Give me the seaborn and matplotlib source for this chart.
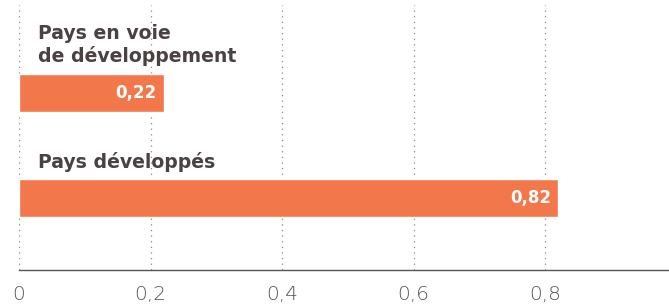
import matplotlib
matplotlib.use("Agg")
import matplotlib.pyplot as plt
import seaborn as sns
import pandas as pd

categories = ["Pays en voie\nde développement", "Pays développés"]
values = [0.22, 0.82]
value_labels = ["0,22", "0,82"]
tick_values = [0, 0.2, 0.4, 0.6, 0.8]
tick_labels = ["0", "0,2", "0,4", "0,6", "0,8"]

sns.set_style("white")
plt.rcParams['font.family'] = ['DejaVu Sans']

df = pd.DataFrame({"cat": categories, "val": values})

fig = plt.figure(figsize=(6.69, 3.07), dpi=100)
ax = fig.add_axes([19/669, 37/307, 1 - 19/669, (270-5)/307])

bar_color = "#F2784B"
sns.barplot(data=df, x="val", y="cat", orient="h", color=bar_color,
            width=0.36, saturation=1, ax=ax, zorder=3)

ax.set_xlim(0, 650/657.5)
ax.set_ylim(1.678, -0.834)

for x in tick_values:
    ax.axvline(x, color="#888888", linestyle=(0, (1, 3.5)), linewidth=0.9, zorder=1)

for i, (v, lab, cat) in enumerate(zip(values, value_labels, categories)):
    ax.text(v - 0.011, i, lab, ha="right", va="center", color="white",
            fontsize=12, fontweight="bold", zorder=4)
    ax.text(0.029, i - 0.18 - 0.11, cat, ha="left", va="baseline",
            color="#4a4242", fontsize=13.6, fontweight="bold", linespacing=1.22)

ax.set_xticks(tick_values)
ax.set_xticklabels(tick_labels, fontsize=14.5, color="#555555", fontweight="light")
ax.tick_params(axis="x", length=0, pad=11)
ax.set_yticks([])
ax.set_xlabel("")
ax.set_ylabel("")
for s in ["top", "right", "left"]:
    ax.spines[s].set_visible(False)
ax.spines["bottom"].set_color("#555555")
ax.spines["bottom"].set_linewidth(1.0)

fig.savefig("out.png", dpi=100)
